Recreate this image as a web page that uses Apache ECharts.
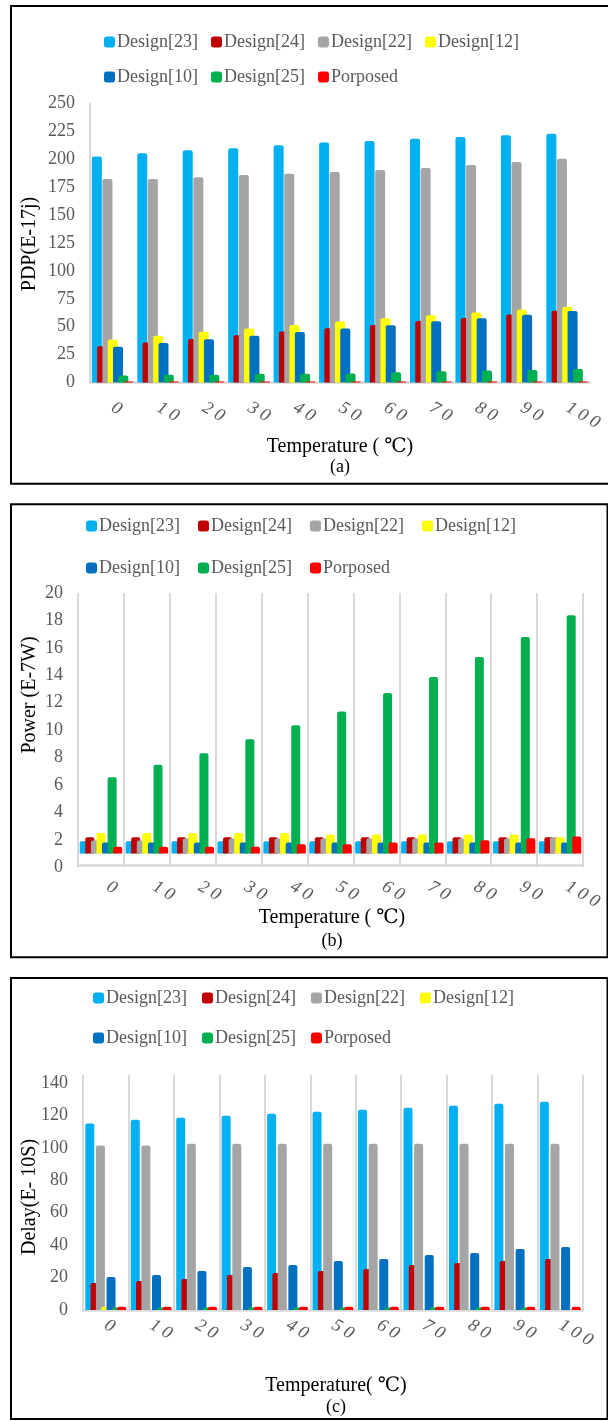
<!DOCTYPE html>
<html>
<head>
<meta charset="utf-8">
<script src="https://cdn.jsdelivr.net/npm/echarts@6/dist/echarts.min.js"></script>
<style>
html,body{margin:0;padding:0;background:#ffffff;}
#chart{width:608px;height:1421px;}
</style>
</head>
<body>
<div id="chart"></div>
<script>
// ---------- data ----------
const categories = ['0','10','20','30','40','50','60','70','80','90','100'];
const seriesNames = ['Design[23]','Design[24]','Design[22]','Design[12]','Design[10]','Design[25]','Porposed'];
const seriesColors = ['#00B0F0','#C00000','#A5A5A5','#FFFF00','#0070C0','#00B050','#FF0000'];

// (a) PDP (E-17j)
const pdpDesign23 = [202.5, 205.5, 208, 210, 212.5, 215, 216.5, 218.5, 220, 221.5, 223];
const pdpDesign24 = [32.5, 35.8, 39, 42.4, 45.6, 48.6, 51.6, 55.2, 57.9, 60.9, 64.2];
const pdpDesign22 = [182.3, 182.3, 184, 186, 187, 188.6, 190.4, 192.2, 194.9, 197.6, 200.5];
const pdpDesign12 = [38.5, 41.8, 45.4, 48.3, 51.6, 54.6, 57.6, 60.3, 62.7, 65.4, 67.8];
const pdpDesign10 = [32, 35.4, 38.8, 42, 45.3, 48.3, 51.4, 54.8, 57.6, 60.7, 64];
const pdpDesign25 = [6.3, 6.9, 6.9, 7.8, 7.9, 8, 9.2, 10.1, 10.7, 11.3, 12.2];
const pdpPorposed = [1, 1, 1, 1, 1, 1, 1, 1, 1, 1, 1];

// (b) Power (E-7W)
const powerDesign23 = [1.9, 1.9, 1.9, 1.9, 1.9, 1.9, 1.9, 1.9, 1.9, 1.9, 1.9];
const powerDesign24 = [2.2, 2.2, 2.2, 2.2, 2.2, 2.2, 2.2, 2.2, 2.2, 2.2, 2.2];
const powerDesign22 = [1.95, 1.95, 2.1, 2.1, 2.1, 2.1, 2.1, 2.1, 2.1, 2.1, 2.2];
const powerDesign12 = [2.5, 2.5, 2.5, 2.5, 2.5, 2.4, 2.4, 2.4, 2.4, 2.4, 2.2];
const powerDesign10 = [1.8, 1.8, 1.8, 1.8, 1.8, 1.8, 1.8, 1.8, 1.8, 1.8, 1.8];
const powerDesign25 = [6.57, 7.47, 8.32, 9.34, 10.36, 11.36, 12.7, 13.87, 15.33, 16.79, 18.37];
const powerPorposed = [1.5, 1.5, 1.5, 1.5, 1.68, 1.68, 1.8, 1.8, 1.97, 2.12, 2.24];
const powerBarBase = 1;      // bars in (b) rise from this value
const powerAxisLineAt = 1.15;

// (c) Delay (E-10S)
const delayDesign23 = [115, 117.4, 118.6, 119.9, 121.1, 122.3, 123.6, 124.8, 126, 127.3, 128.5];
const delayDesign24 = [16.7, 17.9, 19.1, 21.6, 22.8, 24.1, 25.3, 27.8, 29, 30.2, 31.5];
const delayDesign22 = [101.5, 101.5, 102.6, 102.6, 102.6, 102.6, 102.6, 102.6, 102.6, 102.6, 102.6];
const delayDesign12 = [2, 0, 0, 0, 0, 0, 0, 0, 0, 0, 0];
const delayDesign10 = [20.4, 21.6, 24.1, 26.5, 27.8, 30.2, 31.5, 33.9, 35.2, 37.6, 38.9];
const delayDesign25 = [1.5, 1.5, 1.5, 1.5, 1.5, 1.5, 1.5, 1.5, 1.5, 1.5, 0];
const delayPorposed = [2, 2, 2, 2, 2, 2, 2, 2, 2, 2, 2];

const pdpData = [pdpDesign23, pdpDesign24, pdpDesign22, pdpDesign12, pdpDesign10, pdpDesign25, pdpPorposed];
const powerData = [powerDesign23, powerDesign24, powerDesign22, powerDesign12, powerDesign10, powerDesign25, powerPorposed];
const delayData = [delayDesign23, delayDesign24, delayDesign22, delayDesign12, delayDesign10, delayDesign25, delayPorposed];

// ---------- style ----------
const SERIF = "'Liberation Serif', 'DejaVu Serif', serif";
const GRID_GRAY = '#d9d9d9';
const LABEL_GRAY = '#595959';

const panels = [
  {grid:{left:90, top:103.5, width:500, height:279}, max:250, interval:25, barWidth:10, barGap:'-47%',
   yTitle:'PDP(E-17j)', yTitleY:244, xTitle:'Temperature ( \u2103)', xTitleY:447, cap:'(a)', capY:467,
   legendLeft:104, legendY:[42,77], legendGap:13, labelMargin:24, labelPad:0,
   showSplit:false, showYLine:true, data:pdpData, base:null, capX:340},
  {grid:{left:78, top:593, width:505, height:274.3}, max:20, interval:2, barWidth:9, barGap:'-38%',
   yTitle:'Power (E-7W)', yTitleY:695, xTitle:'Temperature ( \u2103)', xTitleY:918, cap:'(b)', capY:941,
   legendLeft:86, legendY:[526,568], legendGap:18, labelMargin:14, labelPad:8,
   showSplit:true, showYLine:false, data:powerData, base:powerBarBase, capX:332},
  {grid:{left:83, top:1075, width:500, height:235}, max:145, interval:20, barWidth:9, barGap:'-41%',
   yTitle:'Delay(E- 10S)', yTitleY:1197, xTitle:'Temperature( \u2103)', xTitleY:1386, cap:'(c)', capY:1407,
   legendLeft:93, legendY:[998,1038], legendGap:15, labelMargin:14, labelPad:0,
   showSplit:true, showYLine:false, data:delayData, base:null, capX:336}
];

const grids = [], xAxes = [], yAxes = [], series = [], legends = [], graphics = [];

panels.forEach((p, k) => {
  grids.push(Object.assign({containLabel:false}, p.grid));
  xAxes.push({
    gridIndex:k, type:'category', data:categories,
    axisTick:{show:false, interval:0},
    axisLine:{show: k !== 1, lineStyle:{color:GRID_GRAY, width:2.5}},
    splitLine:{show:p.showSplit, interval:0, lineStyle:{color:GRID_GRAY, width:2}},
    axisLabel:{interval:0, hideOverlap:false, rotate:-30, margin:p.labelMargin, fontStyle:'italic', fontFamily:SERIF, fontSize:18, color:LABEL_GRAY,
      padding:[0,0,0,p.labelPad],
      formatter: v => v.split('').join(' ')}
  });
  yAxes.push({
    gridIndex:k, type:'value', min:0, max:p.max, interval:p.interval,
    axisLine:{show:p.showYLine, lineStyle:{color:GRID_GRAY, width:2}},
    axisTick:{show:false}, splitLine:{show:false},
    axisLabel:{margin:15, fontFamily:SERIF, fontSize:18, color:LABEL_GRAY, showMaxLabel: p.max % p.interval === 0}
  });
  p.data.forEach((arr, i) => {
    const common = {type:'bar', xAxisIndex:k, yAxisIndex:k, barWidth:p.barWidth, barGap:p.barGap, animation:false};
    if (p.base !== null) {
      series.push(Object.assign({}, common, {
        name:'base'+i, stack:'s'+k+'_'+i, silent:true,
        data: arr.map(() => p.base), itemStyle:{color:'rgba(0,0,0,0)'}
      }));
      const s = Object.assign({}, common, {
        name:seriesNames[i], stack:'s'+k+'_'+i,
        data: arr.map(v => +(v - p.base).toFixed(3)),
        itemStyle:{color:seriesColors[i], borderRadius:[2,2,0,0]}
      });
      if (i === p.data.length - 1) {
        s.markLine = {silent:true, symbol:'none', label:{show:false}, animation:false,
          lineStyle:{color:GRID_GRAY, width:2.5, type:'solid'}, data:[{yAxis: powerAxisLineAt - p.base}]};
      }
      series.push(s);
    } else {
      series.push(Object.assign({}, common, {
        name:seriesNames[i], data:arr,
        itemStyle:{color:seriesColors[i], borderRadius:[2,2,0,0]}
      }));
    }
  });
  [seriesNames.slice(0,4), seriesNames.slice(4)].forEach((names, r) => {
    legends.push({
      data:names, left:p.legendLeft, top:p.legendY[r]-10, orient:'horizontal',
      itemWidth:11, itemHeight:11, itemGap:p.legendGap, icon:'roundRect', padding:0,
      selectedMode:false,
      textStyle:{fontFamily:SERIF, fontSize:18, color:LABEL_GRAY, lineHeight:20, padding:[0,0,0,-3]}
    });
  });
  graphics.push({type:'text', x:30, y:p.yTitleY, rotation:Math.PI/2,
    style:{text:p.yTitle, font:'20px ' + SERIF, fill:'#000', textAlign:'center', textVerticalAlign:'middle'}});
  graphics.push({type:'text', x:p.capX, y:p.xTitleY,
    style:{text:p.xTitle, font:'20px ' + SERIF, fill:'#000', textAlign:'center', textVerticalAlign:'middle'}});
  graphics.push({type:'text', x:p.capX, y:p.capY,
    style:{text:p.cap, font:'18px ' + SERIF, fill:'#000', textAlign:'center', textVerticalAlign:'middle'}});
});

// panel borders
[[11, 6, 600, 477.7], [11, 504.3, 596.5, 453], [11, 978, 596.5, 441]].forEach(b => {
  graphics.push({type:'rect', silent:true, z:-1,
    shape:{x:b[0], y:b[1], width:b[2], height:b[3]},
    style:{fill:'none', stroke:'#000', lineWidth:2}});
});

const chart = echarts.init(document.getElementById('chart'), null, {renderer:'canvas'});
chart.setOption({
  animation:false,
  backgroundColor:'#ffffff',
  grid:grids, xAxis:xAxes, yAxis:yAxes, series:series, legend:legends,
  graphic:graphics
});
</script>
</body>
</html>
